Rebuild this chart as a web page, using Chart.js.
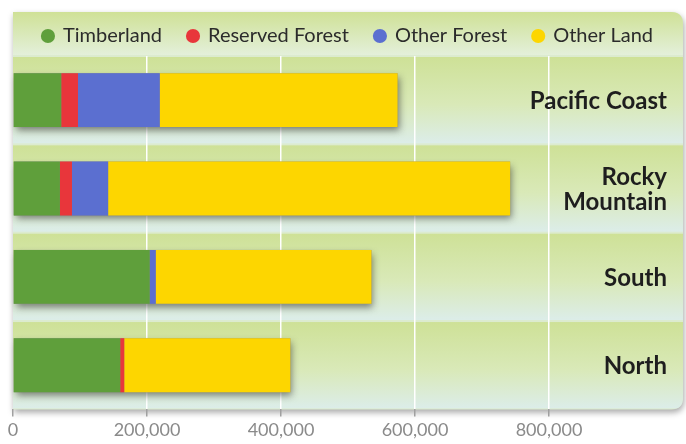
<!DOCTYPE html>
<html>
<head>
<meta charset="utf-8">
<script src="https://cdn.jsdelivr.net/npm/chart.js@4.4.1/dist/chart.umd.min.js"></script>
<style>
  html, body { margin: 0; padding: 0; background: #fff; }
  #wrap { width: 686px; height: 444px; }
</style>
</head>
<body>
<div id="wrap"><canvas id="landChart"></canvas></div>
<script>
// values (acres, thousands scale)
const regions = ['Pacific Coast', ['Rocky', 'Mountain'], 'South', 'North'];
const timberland = [72000, 70000, 204000, 160000];
const reservedForest = [25000, 18000, 0, 6000];
const otherForest = [122000, 54000, 9000, 0];
const otherLand = [355000, 600000, 322000, 248000];
const tickValues = [0, 200000, 400000, 600000, 800000];
const axisMax = 1000000;

const colors = {
    timber: '#5f9f3b',
    reserved: '#e8363b',
    otherForest: '#5b6fd0',
    otherLand: '#fdd600'
};

function roundedPanel(ctx, l, t, r, b, rad) {
    ctx.beginPath();
    ctx.moveTo(l, t);
    ctx.lineTo(r - rad, t);
    ctx.quadraticCurveTo(r, t, r, t + rad);
    ctx.lineTo(r, b - rad);
    ctx.quadraticCurveTo(r, b, r - rad, b);
    ctx.lineTo(l, b);
    ctx.closePath();
}

// green panel behind legend and rows
const panelPlugin = {
    id: 'panel',
    beforeDraw(chart) {
        const ctx = chart.ctx;
        const area = chart.chartArea;
        const y = chart.scales.y;
        const top = 12;
        ctx.save();
        ctx.shadowColor = 'rgba(0,0,0,0.35)';
        ctx.shadowBlur = 6;
        ctx.shadowOffsetX = 1;
        ctx.shadowOffsetY = 3;
        roundedPanel(ctx, area.left, top, area.right, area.bottom, 12);
        ctx.fillStyle = '#dcebcf';
        ctx.fill();
        ctx.restore();

        ctx.save();
        roundedPanel(ctx, area.left, top, area.right, area.bottom, 12);
        ctx.clip();
        // legend band
        let g = ctx.createLinearGradient(0, top, 0, area.top);
        g.addColorStop(0, '#cfe196');
        g.addColorStop(1, '#e4f0dc');
        ctx.fillStyle = g;
        ctx.fillRect(area.left, top, area.right - area.left, area.top - top - 1);
        // rows
        const half = (y.getPixelForValue(1) - y.getPixelForValue(0)) / 2;
        regions.forEach((r, i) => {
            const c = y.getPixelForValue(i);
            const t = c - half + 1, b = c + half - 1;
            const rg = ctx.createLinearGradient(0, t, 0, b);
            rg.addColorStop(0, '#cee197');
            rg.addColorStop(0.55, '#d9e9b8');
            rg.addColorStop(1, '#dcede9');
            ctx.fillStyle = rg;
            ctx.fillRect(area.left, t, area.right - area.left, b - t);
        });
        ctx.restore();
    }
};

// soft drop shadow under each stacked bar
const barShadow = {
    id: 'barShadow',
    beforeDatasetsDraw(chart) {
        const ctx = chart.ctx;
        const first = chart.getDatasetMeta(0).data;
        const last = chart.getDatasetMeta(chart.data.datasets.length - 1).data;
        ctx.save();
        ctx.shadowColor = 'rgba(40,40,40,0.55)';
        ctx.shadowBlur = 7;
        ctx.shadowOffsetX = 2;
        ctx.shadowOffsetY = 4;
        ctx.fillStyle = '#888';
        first.forEach((bar, i) => {
            const end = last[i].x;
            ctx.fillRect(bar.base, bar.y - bar.height / 2, end - bar.base, bar.height);
        });
        ctx.restore();
    }
};

// region names drawn inside the plot on the right
const regionLabels = {
    id: 'regionLabels',
    afterDatasetsDraw(chart) {
        const ctx = chart.ctx;
        const y = chart.scales.y;
        const x = chart.chartArea.right - 16;
        ctx.save();
        ctx.font = 'bold 24px Lato';
        ctx.fillStyle = '#1e1e1e';
        ctx.textAlign = 'right';
        ctx.textBaseline = 'middle';
        regions.forEach((r, i) => {
            const lines = Array.isArray(r) ? r : [r];
            const c = y.getPixelForValue(i);
            lines.forEach((line, j) => {
                ctx.fillText(line, x, c + 1 + (j - (lines.length - 1) / 2) * 25);
            });
        });
        ctx.restore();
    }
};

new Chart(document.getElementById('landChart'), {
    type: 'bar',
    data: {
        labels: regions,
        datasets: [
            { label: 'Timberland', data: timberland, backgroundColor: colors.timber },
            { label: 'Reserved Forest', data: reservedForest, backgroundColor: colors.reserved },
            { label: 'Other Forest', data: otherForest, backgroundColor: colors.otherForest },
            { label: 'Other Land', data: otherLand, backgroundColor: colors.otherLand }
        ]
    },
    options: {
        indexAxis: 'y',
        responsive: true,
        maintainAspectRatio: false,
        animation: false,
        datasets: {
            bar: { categoryPercentage: 1, barPercentage: 0.61, borderWidth: 0 }
        },
        layout: { padding: { left: 13, right: 3, top: 0, bottom: 0 } },
        plugins: {
            tooltip: { enabled: false },
            legend: {
                position: 'top',
                labels: {
                    usePointStyle: true,
                    pointStyle: 'circle',
                    boxWidth: 10,
                    boxHeight: 10,
                    padding: 26,
                    color: '#2b2b2b',
                    font: { family: 'Lato', size: 20 }
                }
            }
        },
        scales: {
            x: {
                stacked: true,
                min: 0,
                max: axisMax,
                afterBuildTicks: (axis) => { axis.ticks = tickValues.map(v => ({ value: v })); },
                border: { display: false },
                grid: {
                    color: (c) => c.index === 0 ? 'rgba(0,0,0,0)' : '#ffffff',
                    lineWidth: 1.5,
                    tickColor: '#a0a0a0',
                    tickLength: 7
                },
                ticks: {
                    color: '#8a8a8a',
                    padding: 3,
                    font: { family: 'Lato', size: 18 },
                    callback: (v) => Number(v).toLocaleString('en-US')
                }
            },
            y: {
                stacked: true,
                display: false
            }
        }
    },
    plugins: [panelPlugin, barShadow, regionLabels]
});
</script>
</body>
</html>
